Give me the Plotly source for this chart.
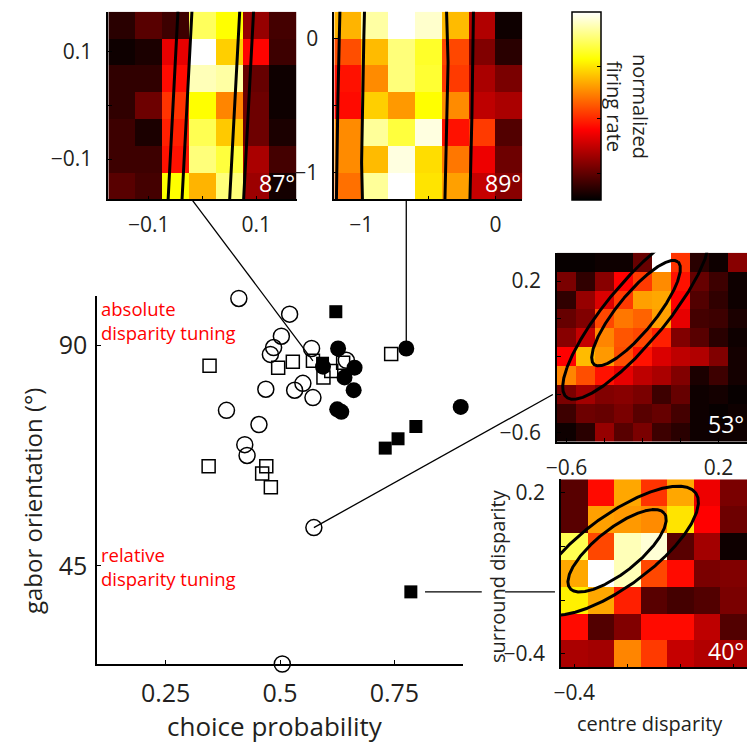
import numpy as np
import plotly.graph_objects as go

W, H = 747, 744
FONT = "Open Sans"
INK = "#231f20"

# ---------------- main scatter data ----------------
open_circle_cp = [0.410, 0.521, 0.503, 0.486, 0.479, 0.569, 0.645, 0.550, 0.532, 0.469,
                  0.572, 0.383, 0.454, 0.423, 0.428, 0.574, 0.505]
open_circle_ori = [99.5, 96.3, 91.8, 89.5, 88.1, 89.3, 86.9, 82.2, 80.8, 81.0,
                   79.3, 76.7, 73.8, 69.7, 67.5, 52.8, 25.0]
open_square_cp = [0.346, 0.496, 0.528, 0.572, 0.595, 0.612, 0.638, 0.743, 0.344, 0.470, 0.461, 0.480]
open_square_ori = [85.8, 85.4, 86.6, 86.8, 83.4, 84.7, 86.4, 88.2, 65.3, 65.3, 63.8, 61.0]
filled_square_cp = [0.622, 0.593, 0.797, 0.758, 0.730, 0.786]
filled_square_ori = [96.8, 86.3, 73.4, 70.9, 69.0, 39.7]
filled_circle_cp = [0.627, 0.776, 0.594, 0.663, 0.641, 0.661, 0.625, 0.634, 0.895]
filled_circle_ori = [89.3, 89.3, 85.6, 85.4, 83.4, 80.8, 76.9, 76.4, 77.4]

x_ticks = [0.25, 0.5, 0.75]
x_tick_text = ["0.25", "0.5", "0.75"]
y_ticks = [45, 90]
y_tick_text = ["45", "90"]

# ---------------- inset heatmaps ----------------
h87_x = [-0.15, -0.1, -0.05, 0.0, 0.05, 0.1, 0.15]
h87_y = [0.15, 0.1, 0.05, 0.0, -0.05, -0.1, -0.15]
h87_z = [
    [0.06, 0.13, 0.09, 0.84, 0.75, 0.22, 0.10],
    [0.02, 0.04, 0.34, 1.00, 0.68, 0.38, 0.09],
    [0.07, 0.07, 0.39, 0.93, 0.91, 0.15, 0.02],
    [0.07, 0.16, 0.45, 0.75, 0.57, 0.16, 0.02],
    [0.09, 0.04, 0.42, 0.83, 0.67, 0.16, 0.04],
    [0.09, 0.09, 0.40, 0.87, 0.81, 0.25, 0.10],
    [0.13, 0.10, 0.75, 0.64, 0.87, 0.23, 0.03],
]
h89_x = [-1.1, -0.9, -0.7, -0.5, -0.3, -0.1, 0.1]
h89_y = [0.1, -0.1, -0.3, -0.5, -0.7, -0.9, -1.1]
h89_z = [
    [0.64, 0.91, 1.00, 0.95, 0.65, 0.26, 0.02],
    [0.49, 0.65, 0.87, 0.79, 0.48, 0.19, 0.06],
    [0.40, 0.58, 0.87, 0.80, 0.46, 0.25, 0.18],
    [0.39, 0.68, 0.60, 0.75, 0.58, 0.28, 0.25],
    [0.58, 0.90, 0.81, 0.97, 0.40, 0.46, 0.12],
    [0.58, 0.65, 0.97, 0.70, 0.55, 0.35, 0.16],
    [0.54, 0.90, 1.00, 0.71, 0.61, 0.29, 0.20],
]
h53_x = [-0.6, -0.5, -0.4, -0.3, -0.2, -0.1, 0.0, 0.1, 0.2, 0.3]
h53_y = [0.3, 0.2, 0.1, 0.0, -0.1, -0.2, -0.3, -0.4, -0.5, -0.6]
h53_z = [
    [0.01, 0.01, 0.02, 0.02, 0.15, 1.00, 0.45, 0.06, 0.02, 0.20],
    [0.18, 0.07, 0.20, 0.375, 0.46, 0.58, 0.40, 0.15, 0.09, 0.02],
    [0.07, 0.22, 0.32, 0.46, 0.61, 0.62, 0.375, 0.12, 0.07, 0.02],
    [0.15, 0.19, 0.48, 0.55, 0.52, 0.61, 0.34, 0.10, 0.09, 0.04],
    [0.20, 0.29, 0.57, 0.50, 0.48, 0.42, 0.19, 0.13, 0.06, 0.02],
    [0.375, 0.65, 0.60, 0.49, 0.40, 0.32, 0.28, 0.26, 0.19, 0.03],
    [0.57, 0.49, 0.40, 0.34, 0.28, 0.25, 0.19, 0.04, 0.09, 0.03],
    [0.18, 0.24, 0.19, 0.20, 0.18, 0.09, 0.15, 0.02, 0.03, 0.01],
    [0.09, 0.16, 0.15, 0.18, 0.13, 0.15, 0.10, 0.02, 0.01, 0.02],
    [0.02, 0.06, 0.22, 0.13, 0.18, 0.09, 0.06, 0.02, 0.02, 0.02],
]
h40_x = [-0.4, -0.3, -0.2, -0.1, 0.0, 0.1, 0.2]
h40_y = [0.2, 0.1, 0.0, -0.1, -0.2, -0.3, -0.4]
h40_z = [
    [0.13, 0.39, 0.62, 0.45, 0.62, 0.35, 0.18],
    [0.13, 0.61, 0.60, 0.58, 0.71, 0.375, 0.16],
    [0.83, 0.48, 0.93, 0.96, 0.13, 0.24, 0.02],
    [0.62, 1.00, 0.93, 0.48, 0.39, 0.18, 0.19],
    [0.73, 0.62, 0.42, 0.13, 0.10, 0.12, 0.18],
    [0.39, 0.12, 0.19, 0.39, 0.39, 0.28, 0.12],
    [0.25, 0.24, 0.57, 0.46, 0.29, 0.26, 0.25],
]

# ellipse contours of fitted tuning: (centre x, centre y, semi-major, semi-minor, angle deg)
ell87 = [(0.0155, 0.0, 1.5, 0.0447, 87.0), (0.0155, 0.0, 2.4, 0.0706, 87.0)]
ell89 = [(-0.674, -0.5, 6.0, 0.316, 89.0), (-0.674, -0.5, 9.5, 0.50, 89.0)]
ell53 = [(-0.234, 0.03, 0.35, 0.10, 51.0), (-0.234, 0.03, 0.576, 0.158, 50.5)]
ell40 = [(-0.239, -0.016, 0.226, 0.082, 38.0), (-0.239, -0.016, 0.366, 0.133, 36.0)]

# ---------------- layout geometry (pixels) ----------------
def dx(p0, p1):
    return [p0 / W, min(p1 / W, 1.0)]

def dy(top, bottom):
    return [1 - bottom / H, 1 - top / H]

MAIN_X = (97, 463)
MAIN_Y = (296, 664)
MAIN_XR = (0.1, 0.9)
MAIN_YR = (25, 100)

fig = go.Figure()

hot = [[0, "rgb(0,0,0)"], [0.375, "rgb(255,0,0)"], [0.75, "rgb(255,255,0)"], [1, "rgb(255,255,255)"]]

def add_heat(x, y, z, ax):
    fig.add_trace(go.Heatmap(x=x, y=y, z=z, coloraxis="coloraxis",
                             xaxis="x" + ax, yaxis="y" + ax, hoverinfo="skip"))

add_heat(h87_x, h87_y, h87_z, "2")
add_heat(h89_x, h89_y, h89_z, "3")
add_heat(h53_x, h53_y, h53_z, "4")
add_heat(h40_x, h40_y, h40_z, "5")

def add_ellipses(ells, ax):
    t = np.linspace(0, 2 * np.pi, 4000)
    for cx, cy, a, b, ang in ells:
        th = np.deg2rad(ang)
        ex = cx + a * np.cos(t) * np.cos(th) - b * np.sin(t) * np.sin(th)
        ey = cy + a * np.cos(t) * np.sin(th) + b * np.sin(t) * np.cos(th)
        fig.add_trace(go.Scatter(x=ex, y=ey, mode="lines", line=dict(color="black", width=3),
                                 xaxis="x" + ax, yaxis="y" + ax, hoverinfo="skip", showlegend=False))

add_ellipses(ell87, "2")
add_ellipses(ell89, "3")
add_ellipses(ell53, "4")
add_ellipses(ell40, "5")

# main scatter
fig.add_trace(go.Scatter(x=open_circle_cp, y=open_circle_ori, mode="markers", cliponaxis=False,
                         marker=dict(symbol="circle-open", size=16, color="black", line=dict(width=1.5)),
                         showlegend=False))
fig.add_trace(go.Scatter(x=open_square_cp, y=open_square_ori, mode="markers", cliponaxis=False,
                         marker=dict(symbol="square-open", size=13, color="black", line=dict(width=1.5)),
                         showlegend=False))
fig.add_trace(go.Scatter(x=filled_square_cp, y=filled_square_ori, mode="markers", cliponaxis=False,
                         marker=dict(symbol="square", size=13, color="black"), showlegend=False))
fig.add_trace(go.Scatter(x=filled_circle_cp, y=filled_circle_ori, mode="markers", cliponaxis=False,
                         marker=dict(symbol="circle", size=16, color="black"), showlegend=False))

# ---------------- axes ----------------
axis_common = dict(showline=True, linecolor="black", linewidth=1.5, ticks="inside",
                   tickcolor="black", showgrid=False, zeroline=False, mirror=False, automargin=False)

fig.update_layout(
    xaxis=dict(domain=dx(*MAIN_X), range=list(MAIN_XR), tickvals=x_ticks, ticktext=x_tick_text,
               ticklen=4, tickwidth=1, tickfont=dict(size=25, color=INK, family=FONT),
               ticklabelstandoff=6, anchor="y", **axis_common),
    yaxis=dict(domain=dy(*MAIN_Y), range=list(MAIN_YR), tickvals=y_ticks, ticktext=y_tick_text,
               ticklen=4, tickwidth=1, tickfont=dict(size=25, color=INK, family=FONT),
               ticklabelstandoff=3, anchor="x", **axis_common),
)

inset_font = dict(size=21, color=INK, family=FONT)

def inset_axes(n, xd, yd, xr, yr, tv, tt, tvy, tty):
    fig.update_layout(**{
        "xaxis" + n: dict(domain=xd, range=xr, tickvals=tv, ticktext=tt, ticklen=4, tickwidth=1,
                          tickfont=inset_font, anchor="y" + n, ticklabelstandoff=6, **axis_common),
        "yaxis" + n: dict(domain=yd, range=yr, tickvals=tvy, ticktext=tty, ticklen=4, tickwidth=1,
                          tickfont=inset_font, anchor="x" + n, ticklabelstandoff=10, **axis_common),
    })

inset_axes("2", dx(108.3, 296.7), dy(11.7, 199.3), [-0.175, 0.175], [-0.175, 0.175],
           [-0.1, 0, 0.1], ["\u22120.1", "", "0.1"], [-0.1, 0, 0.1], ["\u22120.1", "", "0.1"])
inset_axes("3", dx(334.3, 522.3), dy(11.7, 199.3), [-1.2, 0.2], [-1.2, 0.2],
           [-1, -0.5, 0], ["\u22121", "", "0"], [-1, -0.5, 0], ["\u22121", "", "0"])
inset_axes("4", dx(557, 747), dy(252.7, 441.7), [-0.65, 0.35], [-0.65, 0.35],
           [-0.6, -0.4, -0.2, 0, 0.2], ["\u22120.6", "", "", "", "0.2"],
           [-0.6, -0.4, -0.2, 0, 0.2], ["\u22120.6", "", "", "", "0.2"])
inset_axes("5", dx(561, 747), dy(479.3, 667.3), [-0.45, 0.25], [-0.45, 0.25],
           [-0.4, -0.2, 0, 0.2], ["\u22120.4", "", "", "0.2"],
           [-0.4, -0.2, 0, 0.2], ["\u22120.4", "", "", "0.2"])

fig.update_layout(
    coloraxis=dict(colorscale=hot, cmin=0, cmax=1,
                   colorbar=dict(x=571.7 / W, xanchor="left", xpad=0, y=1 - 11.7 / H, yanchor="top",
                                 ypad=0, len=188.3 / H, lenmode="fraction", thickness=29,
                                 thicknessmode="pixels", outlinewidth=1.5, outlinecolor="black",
                                 showticklabels=False, ticks="inside", ticklen=4, tickcolor="black",
                                 tickvals=[0.14, 0.43, 0.71])),
)

# ---------------- connectors ----------------
def main_to_paper(x, y):
    px = MAIN_X[0] + (x - MAIN_XR[0]) / (MAIN_XR[1] - MAIN_XR[0]) * (MAIN_X[1] - MAIN_X[0])
    py = MAIN_Y[1] - (y - MAIN_YR[0]) / (MAIN_YR[1] - MAIN_YR[0]) * (MAIN_Y[1] - MAIN_Y[0])
    return px / W, 1 - py / H

def inset_to_paper(n, x, y):
    xa = fig.layout["xaxis" + n]
    ya = fig.layout["yaxis" + n]
    fx = xa.domain[0] + (x - xa.range[0]) / (xa.range[1] - xa.range[0]) * (xa.domain[1] - xa.domain[0])
    fy = ya.domain[0] + (y - ya.range[0]) / (ya.range[1] - ya.range[0]) * (ya.domain[1] - ya.domain[0])
    return fx, fy

def seg(p0, p1):
    fig.add_shape(type="line", xref="paper", yref="paper", x0=p0[0], y0=p0[1], x1=p1[0], y1=p1[1],
                  line=dict(color="black", width=1.3), layer="below")

# 87 deg: open square
seg(main_to_paper(0.572, 86.8), inset_to_paper("2", -0.02, -0.175))
# 89 deg: filled circle, vertical
p89 = main_to_paper(0.776, 89.3)
seg(p89, (p89[0], inset_to_paper("3", -0.64, -1.2)[1]))
# 53 deg: open circle
seg(main_to_paper(0.574, 52.8), inset_to_paper("4", -0.672, -0.4))
# 40 deg: filled square, horizontal, broken by label
p40a = main_to_paper(0.817, 39.7)
p40b = main_to_paper(0.941, 39.7)
p40c = main_to_paper(0.992, 39.7)
p40d = main_to_paper(1.101, 39.7)
seg(p40a, p40b)
seg(p40c, p40d)

# ---------------- text ----------------
def ann(text, x, y, size, color=INK, angle=0, xanchor="center", yanchor="middle", align="center"):
    fig.add_annotation(text=text, x=x / W, y=1 - y / H, xref="paper", yref="paper", showarrow=False,
                       font=dict(size=size, color=color, family=FONT), textangle=angle,
                       xanchor=xanchor, yanchor=yanchor, align=align)

ann("choice probability", 275, 726, 26)
ann("gabor orientation (\u00b0)", 33, 501, 24, angle=-90)
ann("absolute<br>disparity tuning", 99, 321, 18.5, color="#ff0000", xanchor="left", align="left")
ann("relative<br>disparity tuning", 99, 566, 18.5, color="#ff0000", xanchor="left", align="left")
ann("centre disparity", 650, 723, 20)
ann("surround disparity", 497, 576, 20, angle=-90)
ann("normalized<br>firing rate", 627, 106, 20, angle=90)

ann("87\u00b0", 297, 183, 23, color="white", xanchor="right")
ann("89\u00b0", 523, 183, 23, color="white", xanchor="right")
ann("53\u00b0", 746, 424, 23, color="white", xanchor="right")
ann("40\u00b0", 746, 651, 23, color="white", xanchor="right")

fig.update_layout(width=W, height=H, margin=dict(l=0, r=0, t=0, b=0, autoexpand=False),
                  plot_bgcolor="white", paper_bgcolor="white", showlegend=False,
                  font=dict(family=FONT, color=INK))

fig.write_html("out.html")
